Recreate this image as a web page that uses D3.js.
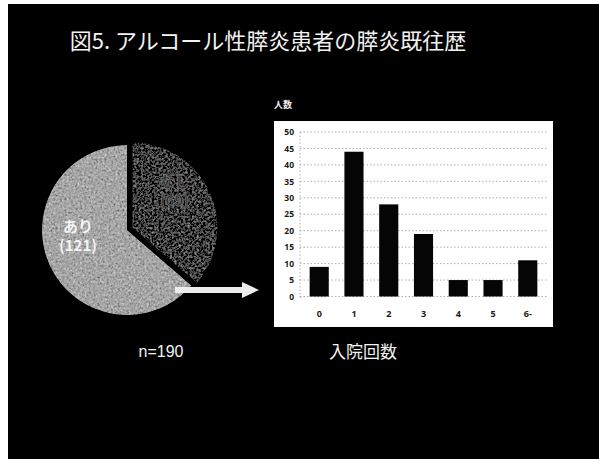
<!DOCTYPE html>
<html>
<head>
<meta charset="utf-8">
<script src="https://cdn.jsdelivr.net/npm/d3@7/dist/d3.min.js"></script>
<style>
  html, body { margin: 0; padding: 0; background: #ffffff; }
  svg { display: block; }
</style>
</head>
<body>
<svg id="chart" width="599" height="459"></svg>
<script>
// Pancreatitis history among alcoholic pancreatitis patients
const titleText = "図5. アルコール性膵炎患者の膵炎既往歴";
const pieLabels = ["なし", "あり"];
const pieCounts = [69, 121];
const totalLabel = "n=190";

// Number of prior admissions among patients with a history
const admitCategories = ["0", "1", "2", "3", "4", "5", "6-"];
const admitCounts = [9, 44, 28, 19, 5, 5, 11];
const yTicks = [0, 5, 10, 15, 20, 25, 30, 35, 40, 45, 50];
const yAxisTitle = "人数";
const xAxisTitle = "入院回数";

const svg = d3.select("#chart");
const jp = "'Noto Sans CJK JP', 'Noto Sans', sans-serif";

// grain texture used on the pie slices
const defs = svg.append("defs");
const grain = defs.append("filter").attr("id", "grain")
  .attr("x", 0).attr("y", 0).attr("width", 1).attr("height", 1);
grain.append("feTurbulence").attr("type", "fractalNoise")
  .attr("baseFrequency", 0.45).attr("numOctaves", 2).attr("seed", 7).attr("result", "noise");
grain.append("feColorMatrix").attr("in", "noise").attr("type", "matrix")
  .attr("values", "0.33 0.33 0.33 0 0  0.33 0.33 0.33 0 0  0.33 0.33 0.33 0 0  0 0 0 0 1")
  .attr("result", "gray");
grain.append("feComposite").attr("in", "SourceGraphic").attr("in2", "gray")
  .attr("operator", "arithmetic").attr("k1", 0).attr("k2", 1).attr("k3", 1.1).attr("k4", -0.55)
  .attr("result", "mix");
grain.append("feComposite").attr("in", "mix").attr("in2", "SourceGraphic").attr("operator", "in");

// slide background
svg.append("rect").attr("x", 8).attr("y", 4).attr("width", 591).attr("height", 455).attr("fill", "#000");

svg.append("text")
  .attr("x", 268).attr("y", 49)
  .attr("text-anchor", "middle")
  .attr("font-family", jp).attr("font-size", 22).attr("fill", "#f2f2f2")
  .text(titleText);

// ---- pie ----
const cx = 127, cy = 230, r = 85;
const pie = d3.pie().sort(null).value(d => d)(pieCounts);
const arc = d3.arc().innerRadius(0).outerRadius(r);
const sliceFill = ["#404040", "#a6a6a6"];
const explode = [6, 0];
const pieG = svg.append("g").attr("transform", `translate(${cx},${cy})`);
const slices = pieG.selectAll("g.slice").data(pie).join("g")
  .attr("class", "slice")
  .attr("transform", (d, i) => {
    const a = (d.startAngle + d.endAngle) / 2;
    return `translate(${Math.sin(a) * explode[i]},${-Math.cos(a) * explode[i]})`;
  });
slices.append("path").attr("d", arc)
  .attr("fill", (d, i) => sliceFill[i])
  .attr("filter", "url(#grain)");

// slice labels
const labelPos = [[42, -40], [-49, 2]];
const labelFill = ["#222222", "#f4f4f4"];
slices.each(function (d, i) {
  const g = d3.select(this);
  const t = g.append("text")
    .attr("text-anchor", "middle")
    .attr("font-family", jp).attr("font-weight", 700).attr("font-size", 15)
    .attr("fill", labelFill[i])
    .attr("stroke", i === 0 ? "#7a7a7a" : "none").attr("stroke-width", 0.7);
  t.append("tspan").attr("x", labelPos[i][0]).attr("y", labelPos[i][1]).text(pieLabels[i]);
  t.append("tspan").attr("x", labelPos[i][0]).attr("y", labelPos[i][1] + 19).text(`(${pieCounts[i]})`);
});

svg.append("text")
  .attr("x", 161).attr("y", 357)
  .attr("text-anchor", "middle")
  .attr("font-family", "'Liberation Sans Narrow', 'Liberation Sans', Arial, sans-serif").attr("font-size", 16).attr("fill", "#f2f2f2")
  .text(totalLabel);

// arrow from pie to bar chart
svg.append("path")
  .attr("d", d3.line()([[175, 290], [244, 290]]))
  .attr("stroke", "#ececec").attr("stroke-width", 6).attr("fill", "none");
svg.append("path")
  .attr("d", d3.line()([[242, 282], [259, 290], [242, 298]]) + "Z")
  .attr("fill", "#ececec");

// ---- bar chart ----
svg.append("rect").attr("x", 274).attr("y", 121).attr("width", 279).attr("height", 206).attr("fill", "#ffffff");

const x = d3.scaleBand().domain(admitCategories).range([302, 545]).paddingInner(0.45).paddingOuter(0.22);
const y = d3.scaleLinear().domain([0, 50]).range([296.5, 132]);

const grid = svg.append("g");
grid.selectAll("line").data(yTicks).join("line")
  .attr("x1", 300).attr("x2", 547)
  .attr("y1", d => y(d)).attr("y2", d => y(d))
  .attr("stroke", "#9a9a9a").attr("stroke-width", 0.8).attr("stroke-dasharray", "1.5,2");
grid.append("line")
  .attr("x1", 300).attr("x2", 300).attr("y1", y(50)).attr("y2", y(0) + 3)
  .attr("stroke", "#9a9a9a").attr("stroke-width", 0.8).attr("stroke-dasharray", "1.5,2");

const yAxis = svg.append("g").attr("transform", "translate(300,0)")
  .call(d3.axisLeft(y).tickValues(yTicks).tickSize(0).tickPadding(6));
yAxis.select(".domain").remove();
yAxis.selectAll("text")
  .attr("font-family", "'Open Sans', sans-serif").attr("font-weight", 700).attr("font-size", 8.5)
  .attr("fill", "#1a1a1a");

const xAxis = svg.append("g").attr("transform", `translate(0,${y(0)})`)
  .call(d3.axisBottom(x).tickSize(0).tickPadding(14));
xAxis.select(".domain").remove();
xAxis.selectAll("text")
  .attr("font-family", "'Open Sans', sans-serif").attr("font-weight", 700).attr("font-size", 9)
  .attr("fill", "#1a1a1a");

svg.append("g").selectAll("rect").data(admitCounts).join("rect")
  .attr("x", (d, i) => x(admitCategories[i]))
  .attr("width", x.bandwidth())
  .attr("y", d => y(d))
  .attr("height", d => y(0) - y(d))
  .attr("fill", "#050505");

svg.append("text")
  .attr("x", 283).attr("y", 108)
  .attr("text-anchor", "middle")
  .attr("font-family", jp).attr("font-weight", 700).attr("font-size", 9).attr("fill", "#f2f2f2")
  .text(yAxisTitle);

svg.append("text")
  .attr("x", 363).attr("y", 358)
  .attr("text-anchor", "middle")
  .attr("font-family", jp).attr("font-size", 17).attr("fill", "#f2f2f2")
  .text(xAxisTitle);
</script>
</body>
</html>
